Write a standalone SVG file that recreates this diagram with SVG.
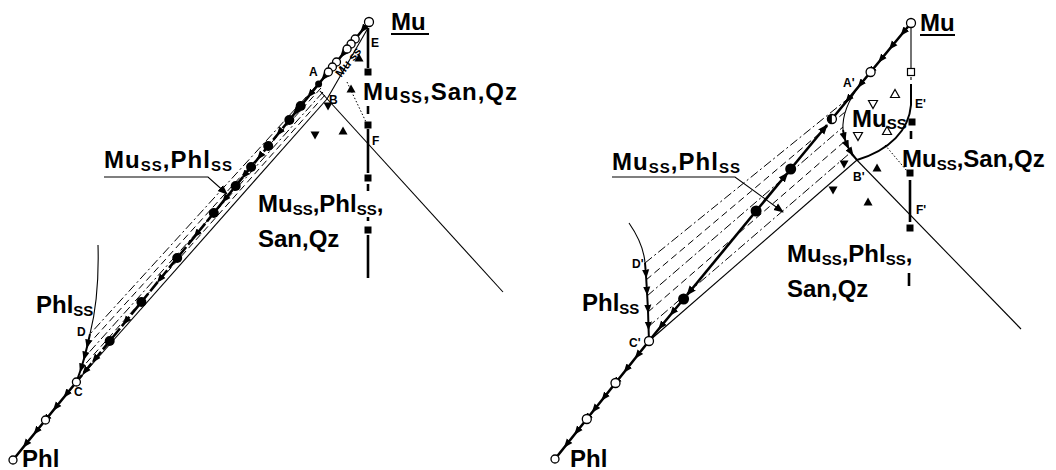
<svg xmlns="http://www.w3.org/2000/svg" width="1056" height="470" viewBox="0 0 1056 470">
<style>
.t{font-family:"Liberation Sans",Arial,sans-serif;font-weight:bold;font-size:24px;fill:#000}
.s{font-size:15px}
.p{font-family:"Liberation Sans",Arial,sans-serif;font-weight:bold;font-size:12px;fill:#000}
.thick{stroke:#000;stroke-width:2.6;fill:none}
.thk2{stroke:#000;stroke-width:2;fill:none}
.dthick{stroke:#000;stroke-width:2.6;fill:none;stroke-dasharray:12 3}
.thin{stroke:#000;stroke-width:1.1;fill:none}
.dd{stroke:#000;stroke-width:1;fill:none;stroke-dasharray:9 3 2 3}
.da{stroke:#000;stroke-width:1;fill:none;stroke-dasharray:7 4}
.dot{stroke:#000;stroke-width:1;stroke-dasharray:1.5 2;fill:none}
.oc{fill:#fff;stroke:#000;stroke-width:1.3}
.ot{fill:#fff;stroke:#000;stroke-width:1.2}
.arr{marker-mid:url(#ar)}
.end{marker-end:url(#ae)}
</style>
<defs>
<marker id="ar" viewBox="0 0 10 10" refX="6" refY="5" markerWidth="9" markerHeight="9" markerUnits="userSpaceOnUse" orient="auto"><path d="M0,1 L10,5 L0,9 z"/></marker>
<marker id="ae" viewBox="0 0 10 10" refX="9" refY="5" markerWidth="10" markerHeight="10" markerUnits="userSpaceOnUse" orient="auto"><path d="M0,1 L10,5 L0,9 z"/></marker>
<path id="tu" d="M-4.5,3.5 L4.5,3.5 L0,-4.5z"/>
<path id="td" d="M-4.5,-3.5 L4.5,-3.5 L0,4.5z"/>
<rect id="sq" x="-3.5" y="-3.5" width="7" height="7"/>
</defs>
<rect width="1056" height="470" fill="#fff"/>

<g id="connectors">
<polyline class="thick arr" points="369,22 362.5,30 342.2,55 323.5,78 318.6,84"/>
<polyline class="dthick arr" points="318.6,84 309.7,95 295,113 278.8,133 259.3,157 243.8,176 224.3,200 195.9,235 159.3,280 125.2,322 94.3,360 84.5,372 76.4,382"/>
<polyline class="thick arr" points="76.4,382 65.8,395 55.2,408 45.5,420 35.7,432 25.1,445 13,460"/>
<line class="dd" x1="318" y1="84" x2="90" y2="334"/>
<line class="da" x1="321" y1="88" x2="87" y2="346"/>
<line class="dd" x1="323" y1="92" x2="84" y2="358"/>
<line class="da" x1="325" y1="95" x2="80" y2="370"/>
<line class="thin" x1="327" y1="99" x2="76.4" y2="382"/>
<line class="thin" x1="368" y1="28" x2="327" y2="99"/>
<line class="thin" x1="320" y1="91" x2="503" y2="292"/>
<path class="thin" d="M98,245 C99,280 96,310 90,334"/>
<polyline class="thk2 arr" points="90,334 87.5,345 84.5,357 81,369 76.4,382"/>
<line class="dot" x1="347" y1="82" x2="366" y2="122"/>
<line class="thick" x1="368" y1="28" x2="368" y2="68"/>
<line class="thick" x1="368" y1="106" x2="368" y2="114"/>
<line class="thick" x1="368" y1="129" x2="368" y2="173"/>
<line class="thick" x1="368" y1="184" x2="368" y2="191"/>
<line class="thick" x1="368" y1="217" x2="368" y2="221"/>
<line class="thick" x1="368" y1="235" x2="368" y2="278"/>
<polyline class="thin end" points="104,177 208,177 227,194"/>

<polyline class="thick arr" points="911,23 902.8,33 891.2,47 880.5,60 870.6,72 859.9,85 847.6,100 831.9,119"/>
<line class="thick end" x1="790.7" y1="169" x2="827" y2="125"/>
<line class="thick end" x1="756.1" y1="211" x2="787.5" y2="173"/>
<line class="thick end" x1="756.1" y1="211" x2="687" y2="295"/>
<polyline class="thick arr" points="683.6,299 672,313 660.4,327 649,341"/>
<polyline class="thick arr" points="649,341 637,356 625.9,370 615.5,383 603.6,398 594,410 586.8,419 576.5,432 566.2,445 555,459"/>
<line class="dd" x1="645" y1="263" x2="850" y2="97"/>
<line class="da" x1="646" y1="280" x2="845" y2="112"/>
<line class="dd" x1="647" y1="296" x2="843" y2="127"/>
<line class="da" x1="648" y1="312" x2="845" y2="141"/>
<line class="dd" x1="648" y1="327" x2="850" y2="153"/>
<line class="thin" x1="649" y1="341" x2="857" y2="160"/>
<path class="thin" d="M629,223 C638,236 644,250 645,263"/>
<polyline class="thk2 arr" points="645,263 646,275 647,292 648,310 648.5,327 649,341"/>
<path class="thin" d="M859.9,85 C850,98 842,115 843,130"/>
<polyline class="thk2 arr" points="843,130 844.5,138 847.5,146 851.5,153 857,160"/>
<path class="thk2" d="M911,84 L911,105 C909,130 890,150 857,160"/>
<line class="thin" x1="851" y1="154" x2="1021" y2="329"/>
<line class="dot" x1="885" y1="145" x2="907" y2="171"/>
<line class="thin" x1="911" y1="27" x2="911" y2="68"/>
<line class="thin" x1="911" y1="77" x2="911" y2="80"/>
<line class="thick" x1="911" y1="131" x2="911" y2="139"/>
<line class="thick" x1="910" y1="180" x2="910" y2="222"/>
<line class="thick" x1="909" y1="273" x2="909" y2="286"/>
<polyline class="thin end" points="612,177 735,177 783,212"/>
</g>

<g id="left-nodes">
<g id="node-Mu-L"><circle class="oc" cx="369" cy="22" r="4.5"/><text class="t" x="391" y="30" font-size="26">Mu</text><line x1="391" y1="34" x2="429" y2="34" stroke="#000" stroke-width="2"/></g>
<g id="node-open-L">
<circle class="oc" cx="355.2" cy="39" r="4"/><circle class="oc" cx="351.1" cy="44" r="4"/><circle class="oc" cx="347.1" cy="49" r="4"/>
<circle class="oc" cx="336.5" cy="62" r="4"/><circle class="oc" cx="332.4" cy="67" r="4"/><circle class="oc" cx="328.4" cy="72" r="4"/>
<circle class="oc" cx="45.5" cy="420" r="4"/>
</g>
<g id="node-filled-L">
<circle cx="318.6" cy="84" r="3.5"/>
<circle cx="300.7" cy="106" r="5"/><circle cx="289.3" cy="120" r="5"/><circle cx="268.2" cy="146" r="5"/>
<circle cx="251.1" cy="167" r="5"/><circle cx="235.7" cy="186" r="5"/><circle cx="213.8" cy="213" r="5"/>
<circle cx="177.2" cy="258" r="5"/><circle cx="141.4" cy="302" r="5"/><circle cx="109.7" cy="341" r="5"/>
</g>
<g id="node-A"><text class="p" x="309" y="76">A</text></g>
<g id="node-B"><text class="p" x="329" y="104">B</text></g>
<g id="node-C"><circle class="oc" cx="76.4" cy="382" r="4"/><text class="p" x="74" y="396">C</text></g>
<g id="node-D"><text class="p" x="77" y="336">D</text></g>
<g id="node-E"><text class="p" x="371" y="47" font-size="11">E</text></g>
<g id="node-F"><text class="p" x="372" y="145" font-size="11">F</text></g>
<g id="node-Phl-L"><circle class="oc" cx="13" cy="460" r="4"/><text class="t" x="22" y="467">Phl</text></g>
<g id="squares-L"><use href="#sq" x="368" y="72"/><use href="#sq" x="368" y="125"/><use href="#sq" x="368" y="178"/><use href="#sq" x="368" y="230"/></g>
<g id="triangles-L"><use href="#tu" x="359" y="58"/><use href="#tu" x="351" y="89"/><use href="#td" x="328" y="106"/><use href="#td" x="315" y="135"/><use href="#tu" x="343" y="131"/></g>
<text class="p" font-size="7" transform="translate(341,78) rotate(-52)">Mu ss</text>
<g id="label-MuSanQz-L"><text class="t" x="363" y="100" font-size="26" letter-spacing="1">Mu<tspan font-size="16" dy="3">SS</tspan><tspan dy="-3">,San,Qz</tspan></text></g>
<g id="label-MuPhl-L"><text class="t" x="104" y="168" textLength="128" lengthAdjust="spacing">Mu<tspan class="s" dy="3">SS</tspan><tspan dy="-3">,Phl</tspan><tspan class="s" dy="3">SS</tspan></text></g>
<g id="label-field-L"><text class="t" x="258" y="212">Mu<tspan class="s" dy="3">SS</tspan><tspan dy="-3">,Phl</tspan><tspan class="s" dy="3">SS</tspan><tspan dy="-3">,</tspan></text><text class="t" x="258" y="247">San,Qz</text></g>
<g id="label-Phlss-L"><text class="t" x="36" y="313">Phl<tspan class="s" dy="3">SS</tspan></text></g>
</g>

<g id="right-nodes">
<g id="node-Mu-R"><circle class="oc" cx="911" cy="23" r="4.5"/><text class="t" x="920" y="31">Mu</text><line x1="920" y1="35" x2="955" y2="35" stroke="#000" stroke-width="2"/></g>
<g id="node-open-R"><circle class="oc" cx="870.6" cy="72" r="4.5"/><circle class="oc" cx="615.5" cy="383" r="4.5"/><circle class="oc" cx="586.8" cy="419" r="4.5"/></g>
<g id="node-half-R"><circle class="oc" cx="831.9" cy="119" r="4.5"/><path d="M831.9,114.5 A4.5,4.5 0 0 0 831.9,123.5 z"/></g>
<g id="node-filled-R"><circle cx="790.7" cy="169" r="5.5"/><circle cx="756.1" cy="211" r="5.5"/><circle cx="683.6" cy="299" r="5.5"/></g>
<g id="node-A2"><text class="p" x="843" y="87">A'</text></g>
<g id="node-B2"><text class="p" x="853" y="181">B'</text></g>
<g id="node-C2"><circle class="oc" cx="649" cy="341" r="4.5"/><text class="p" x="629" y="347">C'</text></g>
<g id="node-D2"><text class="p" x="632" y="268">D'</text></g>
<g id="node-E2"><text class="p" x="915" y="108">E'</text></g>
<g id="node-F2"><text class="p" x="916" y="214">F'</text></g>
<g id="node-Phl-R"><circle class="oc" cx="555" cy="459" r="4"/><text class="t" x="570" y="467">Phl</text></g>
<g id="squares-R"><use href="#sq" x="911" y="72" class="ot"/><use href="#sq" x="912" y="122"/><use href="#sq" x="910" y="173"/><use href="#sq" x="910" y="228"/></g>
<g id="triangles-R"><use href="#tu" x="895" y="94" class="ot"/><use href="#td" x="873" y="104" class="ot"/><use href="#td" x="858" y="136" class="ot"/><use href="#tu" x="887" y="131" class="ot"/><use href="#td" x="844" y="164"/><use href="#tu" x="877" y="168"/><use href="#td" x="833" y="190"/><use href="#tu" x="868" y="202"/></g>
<g id="label-Muss-R"><text class="t" x="852" y="127">Mu<tspan class="s" dy="2">SS</tspan></text></g>
<g id="label-MuSanQz-R"><text class="t" x="902" y="167">Mu<tspan class="s" dy="3">SS</tspan><tspan dy="-3">,San,Qz</tspan></text></g>
<g id="label-MuPhl-R"><text class="t" x="612" y="170" textLength="128" lengthAdjust="spacing">Mu<tspan class="s" dy="3">SS</tspan><tspan dy="-3">,Phl</tspan><tspan class="s" dy="3">SS</tspan></text></g>
<g id="label-field-R"><text class="t" x="787" y="262">Mu<tspan class="s" dy="3">SS</tspan><tspan dy="-3">,Phl</tspan><tspan class="s" dy="3">SS</tspan><tspan dy="-3">,</tspan></text><text class="t" x="787" y="297">San,Qz</text></g>
<g id="label-Phlss-R"><text class="t" x="582" y="311">Phl<tspan class="s" dy="3">SS</tspan></text></g>
</g>
</svg>
